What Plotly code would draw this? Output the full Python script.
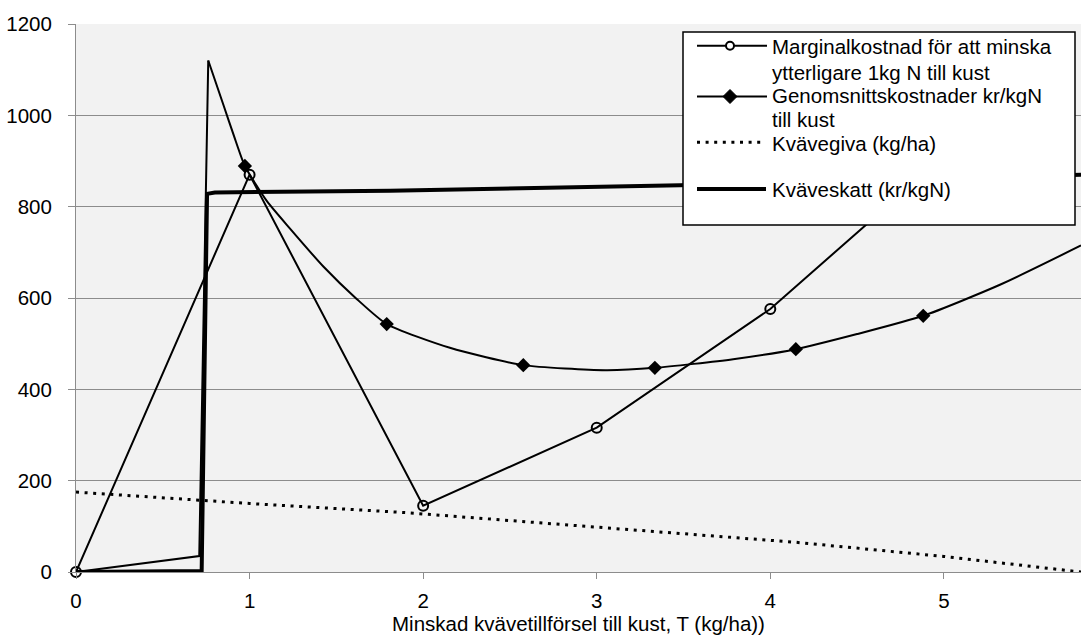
import plotly.graph_objects as go

# ---------------- data ----------------
marg_x = [0, 1, 2, 3, 4, 5]
marg_y = [0, 870, 145, 316, 576, 910]

# Genomsnittskostnader: left spike part and smooth part
genom_spike_x = [0, 0.71, 0.762]
genom_spike_y = [0, 35, 1120]
genom_curve_x = [0.762, 0.85, 0.91, 0.973, 1.1, 1.233, 1.425, 1.617, 1.79, 2.154, 2.577, 3.05, 3.335, 3.786, 4.147, 4.5, 4.881, 5.323, 5.79]
genom_curve_y = [1120, 1022, 955, 889, 812, 752, 669, 598, 543, 491, 453, 442, 447, 466, 488, 521, 561, 629, 715]
genom_mark_x = [0.973, 1.79, 2.577, 3.335, 4.147, 4.881]
genom_mark_y = [889, 543, 453, 447, 488, 561]

giva_x = [0, 1, 1.9, 3.0, 4.15, 5.0, 5.79]
giva_y = [175, 150, 130, 99, 65, 34, 0]

skatt_x = [0, 0.724, 0.755, 0.80, 1.81, 3.48, 5.79]
skatt_y = [0, 2, 828, 831, 835, 847, 870]

x_ticks = [0, 1, 2, 3, 4, 5]
y_ticks = [0, 200, 400, 600, 800, 1000, 1200]

legend_labels = [
    ["Marginalkostnad för att minska", "ytterligare 1kg N till kust"],
    ["Genomsnittskostnader kr/kgN", "till kust"],
    ["Kvävegiva (kg/ha)"],
    ["Kväveskatt (kr/kgN)"],
]
x_title = "Minskad kvävetillförsel till kust, T (kg/ha))"

# ---------------- styling ----------------
FONT = "Liberation Sans, Arial, sans-serif"
FS = 20.5
GRID = "#8C8C8C"
W, H = 1081, 642
L, R, T, B = 76, 0, 24, 70
PW, PH = W - L - R, H - T - B


def px(x):
    return (x - L) / PW


def py(y):
    return (H - B - y) / PH


fig = go.Figure()

fig.add_trace(go.Scatter(x=giva_x, y=giva_y, mode="lines",
                         line=dict(color="black", width=3, dash="3px,5.6px"),
                         showlegend=False, hoverinfo="skip"))
fig.add_trace(go.Scatter(x=skatt_x, y=skatt_y, mode="lines",
                         line=dict(color="black", width=4),
                         showlegend=False))
fig.add_trace(go.Scatter(x=genom_spike_x, y=genom_spike_y, mode="lines",
                         line=dict(color="black", width=2),
                         showlegend=False))
fig.add_trace(go.Scatter(x=genom_curve_x, y=genom_curve_y, mode="lines",
                         line=dict(color="black", width=2, shape="spline", smoothing=0.6),
                         showlegend=False))
fig.add_trace(go.Scatter(x=genom_mark_x, y=genom_mark_y, mode="markers",
                         marker=dict(symbol="diamond", size=11, color="black"),
                         showlegend=False))
fig.add_trace(go.Scatter(x=marg_x, y=marg_y, mode="lines+markers",
                         line=dict(color="black", width=2),
                         marker=dict(symbol="circle-open", size=10, color="black",
                                     line=dict(width=2, color="black")),
                         cliponaxis=False, showlegend=False))

# ---------------- custom legend ----------------
shapes = []
annotations = []
shapes.append(dict(type="rect", xref="paper", yref="paper",
                   x0=px(683), x1=px(1075), y0=py(225), y1=py(32),
                   fillcolor="white", line=dict(color="black", width=1.5), layer="above"))
# entry 1
shapes.append(dict(type="line", xref="paper", yref="paper",
                   x0=px(697), x1=px(767), y0=py(45.7), y1=py(45.7),
                   line=dict(color="black", width=2), layer="above"))
shapes.append(dict(type="circle", xref="paper", yref="paper",
                   x0=px(726), x1=px(734), y0=py(49.7), y1=py(41.7),
                   fillcolor="white", line=dict(color="black", width=2), layer="above"))
# entry 2
shapes.append(dict(type="line", xref="paper", yref="paper",
                   x0=px(697), x1=px(767), y0=py(96.5), y1=py(96.5),
                   line=dict(color="black", width=2), layer="above"))
cx, cy, d = 730, 96.5, 7
shapes.append(dict(type="path", xref="paper", yref="paper",
                   path=(f"M {px(cx)},{py(cy - d)} L {px(cx + d)},{py(cy)} "
                         f"L {px(cx)},{py(cy + d)} L {px(cx - d)},{py(cy)} Z"),
                   fillcolor="black", line=dict(color="black", width=1), layer="above"))
# entry 3
shapes.append(dict(type="line", xref="paper", yref="paper",
                   x0=px(697), x1=px(761), y0=py(142.3), y1=py(142.3),
                   line=dict(color="black", width=3, dash="3px,5.6px"), layer="above"))
# entry 4
shapes.append(dict(type="line", xref="paper", yref="paper",
                   x0=px(697), x1=px(766), y0=py(189), y1=py(189),
                   line=dict(color="black", width=4), layer="above"))

line_centers = [[46, 72], [95.5, 119.5], [143], [189.5]]
for labels, centers in zip(legend_labels, line_centers):
    for txt, c in zip(labels, centers):
        annotations.append(dict(xref="paper", yref="paper", x=px(771), y=py(c),
                                xanchor="left", yanchor="middle", showarrow=False,
                                text=txt, font=dict(family=FONT, size=FS, color="black"),
                                borderpad=0))

fig.update_layout(
    width=W, height=H,
    margin=dict(l=L, r=R, t=T, b=B, pad=0),
    paper_bgcolor="white",
    plot_bgcolor="#F2F2F2",
    font=dict(family=FONT, size=FS, color="black"),
    showlegend=False,
    shapes=shapes,
    annotations=annotations,
    xaxis=dict(range=[0, 5.79], tickvals=x_ticks, ticktext=[str(v) for v in x_ticks],
               showgrid=False, zeroline=False, showline=True, linecolor=GRID, linewidth=1,
               ticks="outside", ticklen=6, tickcolor=GRID, tickwidth=1,
               ticklabelstandoff=4,
               title=dict(text=x_title, font=dict(family=FONT, size=FS), standoff=5),
               automargin=False),
    yaxis=dict(range=[0, 1200], tickvals=y_ticks, ticktext=[str(v) for v in y_ticks],
               showgrid=True, gridcolor=GRID, gridwidth=1,
               zeroline=False, showline=True, linecolor=GRID, linewidth=1,
               ticks="outside", ticklen=7, tickcolor=GRID, tickwidth=1,
               ticklabelstandoff=12,
               automargin=False),
)

fig.write_html("out.html")
